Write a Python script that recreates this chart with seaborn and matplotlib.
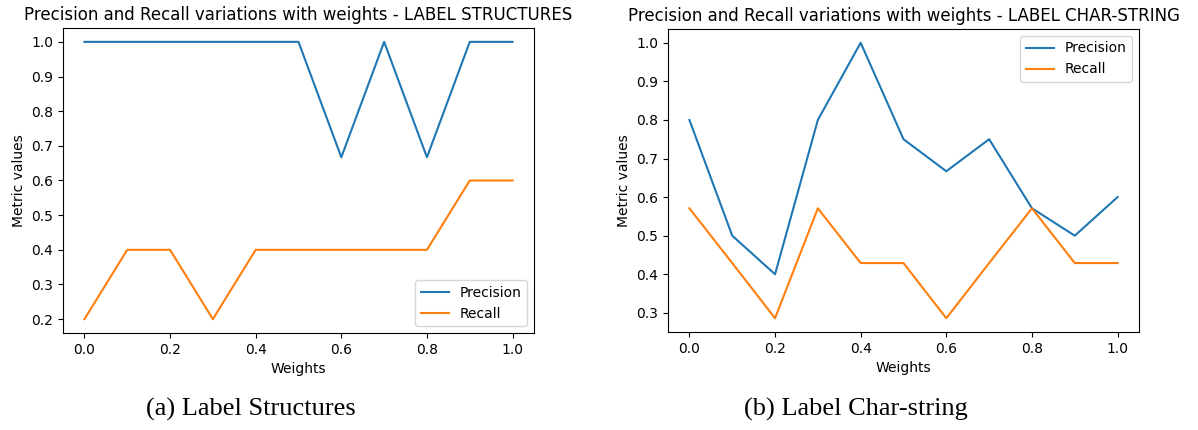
import numpy as np
import pandas as pd
import matplotlib
matplotlib.use("Agg")
import matplotlib.pyplot as plt
import seaborn as sns

weights = [0.0, 0.1, 0.2, 0.3, 0.4, 0.5, 0.6, 0.7, 0.8, 0.9, 1.0]

structures_precision = [1.0, 1.0, 1.0, 1.0, 1.0, 1.0, 0.667, 1.0, 0.667, 1.0, 1.0]
structures_recall = [0.2, 0.4, 0.4, 0.2, 0.4, 0.4, 0.4, 0.4, 0.4, 0.6, 0.6]

charstring_precision = [0.8, 0.5, 0.4, 0.8, 1.0, 0.75, 0.667, 0.75, 0.571, 0.5, 0.6]
charstring_recall = [0.571, 0.429, 0.286, 0.571, 0.429, 0.429, 0.286, 0.429, 0.571, 0.429, 0.429]

titles = [
    "Precision and Recall variations with weights - LABEL STRUCTURES",
    "Precision and Recall variations with weights - LABEL CHAR-STRING",
]
captions = ["(a) Label Structures", "(b) Label Char-string"]
series_names = ["Precision", "Recall"]

plt.rcParams["font.family"] = ["DejaVu Sans"]

fig = plt.figure(figsize=(11.98, 4.30), dpi=100)
ax1 = fig.add_axes([63 / 1198, 1 - 333 / 430, 471 / 1198, 305 / 430])
ax2 = fig.add_axes([668 / 1198, 1 - 332 / 430, 471 / 1198, 303 / 430])

panels = [
    (ax1, structures_precision, structures_recall, "lower right"),
    (ax2, charstring_precision, charstring_recall, "upper right"),
]
colors = ["#1f77b4", "#ff7f0e"]

for i, (ax, prec, rec, loc) in enumerate(panels):
    df = pd.DataFrame({
        "Weights": weights * 2,
        "Metric values": prec + rec,
        "Metric": [series_names[0]] * len(weights) + [series_names[1]] * len(weights),
    })
    sns.lineplot(data=df, x="Weights", y="Metric values", hue="Metric",
                 palette=colors, ax=ax, linewidth=1.5)
    ax.set_title(titles[i], fontsize=12, pad=6)
    ax.set_xlabel("Weights", fontsize=10)
    ax.set_ylabel("Metric values", fontsize=10)
    ax.tick_params(labelsize=10, length=3.5, width=0.8)
    ax.set_xticks([0.0, 0.2, 0.4, 0.6, 0.8, 1.0])
    ax.legend(loc=loc, fontsize=10, title=None, frameon=True)
    for s in ax.spines.values():
        s.set_linewidth(0.8)
    ax.grid(False)

ax2.set_yticks([0.3, 0.4, 0.5, 0.6, 0.7, 0.8, 0.9, 1.0])

fig.text(251 / 1198, 1 - 409 / 430, captions[0], ha="center", va="center",
         fontsize=19, family=["Liberation Serif"])
fig.text(856 / 1198, 1 - 409 / 430, captions[1], ha="center", va="center",
         fontsize=19, family=["Liberation Serif"])

fig.savefig("out.png", dpi=100, facecolor="white")
